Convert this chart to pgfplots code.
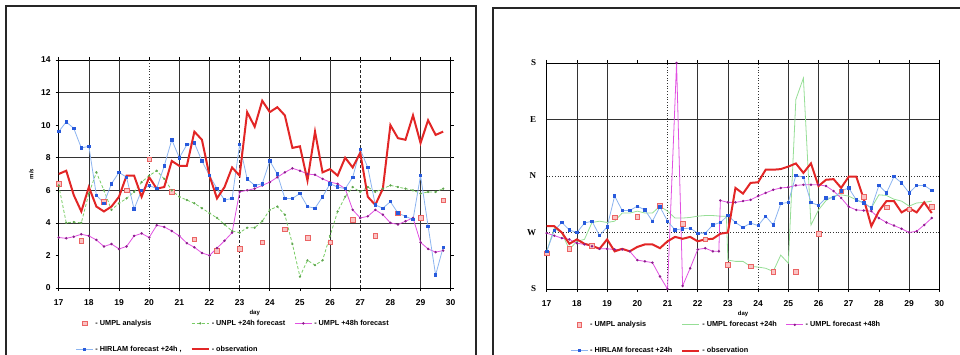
\documentclass[border=0pt]{standalone}
\usepackage{pgfplots}
\pgfplotsset{compat=1.18}
\usepackage{fontspec}
\setmainfont{Liberation Sans}
\newfontfamily\serifbf{Liberation Serif}
\definecolor{obsred}{RGB}{226,38,38}
\definecolor{hirline}{RGB}{140,180,240}
\definecolor{hirmark}{RGB}{40,90,220}
\definecolor{magline}{RGB}{225,80,225}
\definecolor{magmark}{RGB}{140,30,140}
\definecolor{grnline}{RGB}{120,205,100}
\definecolor{grnline2}{RGB}{150,222,150}
\definecolor{anafill}{RGB}{250,195,195}
\definecolor{anadraw}{RGB}{235,100,100}
\tikzset{
  gsolid/.style={black!80, line width=0.7pt},
  gdot/.style={black!80, line width=0.7pt, dotted},
  gdash/.style={black!85, line width=1pt, densely dashed},
}
\pgfplotsset{
  commonax/.style={
    scale only axis, anchor=south west,
    xmin=17, xmax=30, xtick={17,...,30},
    tick align=outside, major tick length=3pt,
    tick style={black, line width=0.6pt},
    /pgf/number format/assume math mode=true,
    tick label style={font=\fontsize{8.5}{9}\selectfont\bfseries},
    xticklabel style={yshift=-5pt},
    axis line style={black, line width=0.9pt},
    xlabel={day},
    xlabel style={font=\fontsize{6}{6}\selectfont\bfseries, yshift=2pt},
    legend cell align=left,
    legend style={draw=none, fill=none, anchor=north west,
      font=\fontsize{7.3}{8}\selectfont\bfseries,
      legend columns=3, row sep=15pt,
      /tikz/every even column/.append style={column sep=7pt}},
  },
  ana/.style={only marks, mark=square*, mark size=2.3pt, mark options={fill=anafill, draw=anadraw, line width=0.5pt}},
  hir/.style={hirline, line width=0.8pt, mark=square*, mark size=1.2pt, mark options={fill=hirmark, draw=hirmark}},
  mag/.style={magline, line width=0.8pt, mark=*, mark size=0.8pt, mark options={fill=magmark, draw=magmark}},
  obs/.style={obsred, line width=2pt},
}
\begin{document}
\begin{tikzpicture}[x=1pt,y=1pt]
\path[use as bounding box] (0,0) rectangle (960,355);
\draw[line width=1.2pt, black!85] (6,-5) -- (6,349) -- (476,349) -- (476,-5);
\draw[line width=1.2pt, black!85] (493,-5) -- (493,347) -- (970,347);

% ---------------- left panel: wind speed ----------------
\begin{axis}[commonax,
  at={(58.7pt,67pt)}, width=392pt, height=228pt,
  ymin=0, ymax=14, ytick={0,2,...,14},
  yticklabel style={xshift=-1.5pt},
  ylabel={m/s},
  ylabel style={font=\fontsize{6}{6}\selectfont\bfseries, at={(axis description cs:-0.055,0.5)}},
  legend style={at={(axis description cs:0.035,-0.122)}},
]
\pgfplotsinvokeforeach{18,19,21,22,24,26,29}{\draw[gsolid] (axis cs:#1,0) -- (axis cs:#1,14);}
\draw[gdot] (axis cs:20,0) -- (axis cs:20,14);
\draw[gdash] (axis cs:23,0) -- (axis cs:23,14);
\draw[gdash] (axis cs:27,0) -- (axis cs:27,14);
\pgfplotsinvokeforeach{4,6,8,12}{\draw[gsolid] (axis cs:17,#1) -- (axis cs:30,#1);}

\addplot[ana] coordinates {(17,6.4) (17.75,2.9) (18.5,5.3) (19.25,6.0) (20,7.9) (20.75,5.9) (21.5,3.0) (22.25,2.3) (23,2.4) (23.75,2.8) (24.5,3.6) (25.25,3.1) (26,2.8) (26.75,4.2) (27.5,3.2) (28.25,4.6) (29,4.3) (29.75,5.4)};
\addlegendentry{- UMPL analysis}
\addplot[grnline, line width=0.8pt, densely dashed, mark=*, mark size=0.7pt, mark options={solid, fill=grnline!80!black, draw=grnline!80!black}] coordinates {
(17,6.3) (17.25,4.0) (17.5,4.05) (17.75,4.0) (18,5.8) (18.25,7.1) (18.5,6.0) (18.75,4.8) (19,5.2) (19.25,5.5) (19.5,5.9) (19.75,6.5) (20,6.9) (20.25,7.2) (20.5,6.7) (20.75,6.0) (21,5.6) (21.25,5.4) (21.5,5.2) (21.75,4.9) (22,4.6) (22.25,4.3) (22.5,3.9) (22.75,3.5) (23,3.4) (23.25,3.7) (23.5,3.7) (23.75,4.1) (24,4.8) (24.25,5.0) (24.5,4.5) (24.75,2.7) (25,0.7) (25.25,1.7) (25.5,1.4) (25.75,1.7) (26,3.2) (26.25,4.7) (26.5,5.6) (26.75,6.2) (27,5.9) (27.25,6.2) (27.5,5.9) (27.75,6.1) (28,6.3) (28.25,6.2) (28.5,6.1) (28.75,6.0) (29,5.8) (29.25,5.9) (29.5,5.9) (29.75,6.1)};
\addlegendentry{- UNPL +24h forecast}
\addplot[mag] coordinates {
(17,3.1) (17.25,3.05) (17.5,3.15) (17.75,3.3) (18,3.2) (18.25,2.95) (18.5,2.55) (18.75,2.7) (19,2.4) (19.25,2.55) (19.5,3.2) (19.75,3.35) (20,3.1) (20.25,3.85) (20.5,3.75) (20.75,3.5) (21,3.2) (21.25,2.75) (21.5,2.5) (21.75,2.15) (22,2.0) (22.25,2.45) (22.5,2.9) (22.75,3.4) (23,5.9) (23.25,6.0) (23.5,6.1) (23.75,6.3) (24,6.5) (24.25,6.8) (24.5,7.1) (24.75,7.35) (25,7.2) (25.25,7.0) (25.5,6.95) (25.75,6.7) (26,6.5) (26.25,6.4) (26.5,6.1) (26.75,4.8) (27,4.3) (27.25,4.4) (27.5,4.8) (27.75,4.5) (28,4.0) (28.25,3.9) (28.5,4.1) (28.75,4.3) (29,2.8) (29.25,2.4) (29.5,2.2) (29.75,2.3)};
\addlegendentry{- UMPL +48h forecast}
\addplot[hir] coordinates {
(17,9.6) (17.25,10.2) (17.5,9.8) (17.75,8.6) (18,8.7) (18.25,5.7) (18.5,5.2) (18.75,6.4) (19,7.1) (19.25,6.8) (19.5,4.85) (19.75,6.0) (20,6.3) (20.25,6.1) (20.5,7.5) (20.75,9.1) (21,8.0) (21.25,8.8) (21.5,8.9) (21.75,7.8) (22,6.9) (22.25,6.1) (22.5,5.4) (22.75,5.5) (23,8.8) (23.25,6.7) (23.5,6.3) (23.75,6.4) (24,7.8) (24.25,7.0) (24.5,5.5) (24.75,5.5) (25,5.8) (25.25,5.0) (25.5,4.9) (25.75,5.6) (26,6.4) (26.25,6.2) (26.5,6.1) (26.75,6.8) (27,8.5) (27.25,7.4) (27.5,5.1) (27.75,4.9) (28,5.3) (28.25,4.6) (28.5,4.4) (28.75,4.2) (29,6.9) (29.25,3.8) (29.5,0.8) (29.75,2.5)};
\addlegendentry{- HIRLAM forecast +24h ,}
\addplot[obs] coordinates {
(17,7.0) (17.25,7.2) (17.5,5.7) (17.75,4.7) (18,6.2) (18.25,5.0) (18.5,4.7) (18.75,5.0) (19,5.6) (19.25,6.9) (19.5,6.9) (19.75,5.6) (20,6.8) (20.25,6.1) (20.5,6.2) (20.75,7.8) (21,7.5) (21.25,7.5) (21.5,9.6) (21.75,9.1) (22,6.9) (22.25,5.5) (22.5,6.2) (22.75,7.4) (23,6.9) (23.25,10.8) (23.5,9.9) (23.75,11.5) (24,10.8) (24.25,11.1) (24.5,10.6) (24.75,8.6) (25,8.7) (25.25,6.6) (25.5,9.6) (25.75,7.1) (26,7.3) (26.25,6.9) (26.5,8.0) (26.75,7.4) (27,8.3) (27.25,5.6) (27.5,5.1) (27.75,6.1) (28,10.0) (28.25,9.2) (28.5,9.1) (28.75,10.6) (29,8.9) (29.25,10.3) (29.5,9.4) (29.75,9.6)};
\addlegendentry{- observation}
\end{axis}

% ---------------- right panel: wind direction ----------------
\begin{axis}[commonax,
  at={(546.7pt,66pt)}, width=392.6pt, height=226pt,
  ymin=180, ymax=540, ytick={180,270,360,450,540},
  yticklabels={S,W,N,E,S},
  yticklabel style={font=\serifbf\fontsize{9}{10}\selectfont\bfseries, xshift=-4pt},
  ytick style={draw=none},
  legend style={at={(axis description cs:0.052,-0.125)}},
]
\pgfplotsinvokeforeach{18,19,22,23,25,26,27,29}{\draw[gsolid] (axis cs:#1,180) -- (axis cs:#1,540);}
\draw[gdot] (axis cs:21,180) -- (axis cs:21,540);
\draw[gdot] (axis cs:24,180) -- (axis cs:24,540);
\draw[gsolid] (axis cs:17,450) -- (axis cs:30,450);
\draw[gdot] (axis cs:17,360) -- (axis cs:30,360);
\draw[gdot] (axis cs:17,270) -- (axis cs:30,270);

\addplot[ana] coordinates {(17,237) (17.75,244) (18.5,249) (19.25,294) (20,295) (20.75,313) (21.5,284) (22.25,259) (23,219) (23.75,216) (24.5,207) (25.25,207) (26,268) (26.75,336) (27.5,327) (28.25,310) (29,307) (29.75,311)};
\addlegendentry{- UMPL analysis}
\addplot[grnline2, line width=0.8pt] coordinates {
(17,240) (17.25,277) (17.5,269) (17.75,243) (18,256) (18.25,259) (18.5,286) (18.75,288) (19,286) (19.25,288) (19.5,301) (19.75,301) (20,304) (20.25,301) (20.5,301) (20.75,312) (21,304) (21.25,293) (21.5,293) (21.75,294) (22,296) (22.25,297) (22.5,297) (22.75,296) (22.95,296) (23.0,226) (23.25,224) (23.5,224) (23.75,216) (24,215) (24.25,213) (24.5,208) (24.75,234) (25.0,221) (25.25,482) (25.5,516) (25.75,282) (26,306) (26.25,321) (26.5,328) (26.75,330) (27,328) (27.25,322) (27.5,317) (27.75,309) (28,330) (28.25,329) (28.5,323) (28.75,320) (29,312) (29.25,317) (29.5,318) (29.75,320)};
\addlegendentry{- UMPL forecast +24h}
\addplot[mag] coordinates {
(17,269) (17.25,265) (17.5,261) (17.75,259) (18,253) (18.25,251) (18.5,248) (18.75,244) (19,244) (19.25,243) (19.5,243) (19.75,240) (20,226) (20.25,224) (20.5,222) (20.75,200) (21,180) (21.3,540) (21.5,185) (21.75,213) (22,243) (22.25,245) (22.5,240) (22.7,240) (22.75,321) (23,318) (23.25,318) (23.5,320) (23.75,322) (24,328) (24.25,333) (24.5,338) (24.75,341) (25,342) (25.25,345) (25.5,346) (25.75,346) (26,346) (26.25,344) (26.5,336) (26.75,325) (27,311) (27.25,306) (27.5,305) (27.75,304) (28,293) (28.25,286) (28.5,281) (28.75,276) (29,270) (29.25,272) (29.5,282) (29.75,293)};
\addlegendentry{- UMPL forecast +48h}
\addplot[hir] coordinates {
(17,240) (17.25,273) (17.5,286) (17.75,274) (18,270) (18.25,285) (18.5,288) (18.75,265) (19,279) (19.25,328) (19.5,305) (19.75,305) (20,312) (20.25,306) (20.5,288) (20.75,311) (21,288) (21.25,274) (21.5,276) (21.75,277) (22,269) (22.25,269) (22.5,282) (22.75,286) (23,297) (23.25,286) (23.5,278) (23.75,285) (24,281) (24.25,296) (24.5,282) (24.75,316) (25,318) (25.25,361) (25.5,358) (25.75,318) (26,313) (26.25,325) (26.5,325) (26.75,336) (27,341) (27.25,322) (27.5,317) (27.75,309) (28,345) (28.25,333) (28.5,359) (28.75,349) (29,333) (29.25,345) (29.5,345) (29.75,337)};
\addlegendentry{- HIRLAM forecast +24h}
\addplot[obs] coordinates {
(17,280) (17.25,280) (17.5,270) (17.75,252) (18,259) (18.25,252) (18.5,249) (18.75,244) (19,259) (19.25,240) (19.5,244) (19.75,240) (20,247) (20.25,251) (20.5,251) (20.75,245) (21,256) (21.25,263) (21.5,260) (21.75,263) (22,256) (22.25,259) (22.5,260) (22.75,268) (23,270) (23.25,341) (23.5,332) (23.75,349) (24,350) (24.25,370) (24.5,370) (24.75,371) (25,375) (25.25,380) (25.5,365) (25.75,380) (26,344) (26.25,354) (26.5,355) (26.75,341) (27,359) (27.25,359) (27.5,323) (27.75,280) (28,304) (28.25,320) (28.5,320) (28.75,302) (29,309) (29.25,302) (29.5,318) (29.75,301)};
\addlegendentry{- observation}
\end{axis}
\end{tikzpicture}
\end{document}
